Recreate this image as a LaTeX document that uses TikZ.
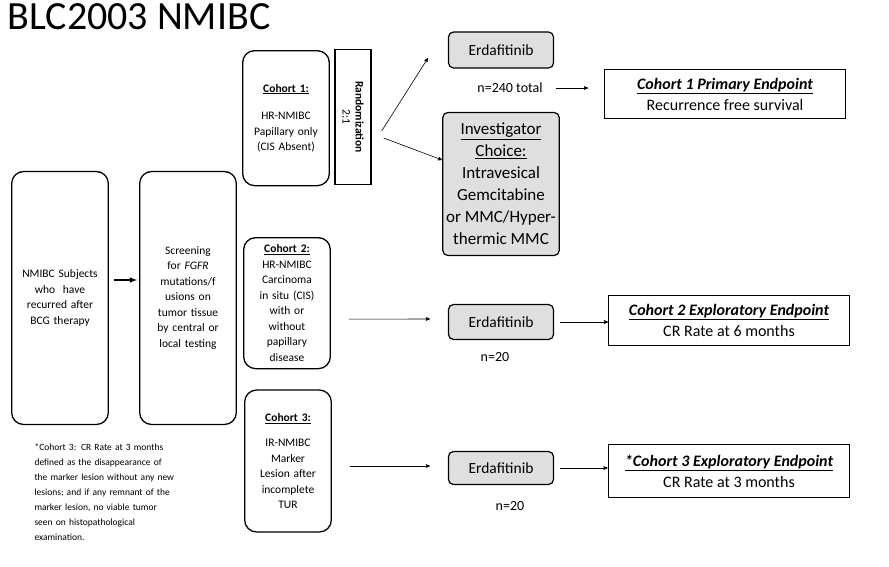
\documentclass[tikz,border=0pt]{standalone}
\usepackage{fontspec}
\setmainfont{Carlito}
\usetikzlibrary{positioning,arrows}
\begin{document}
\begin{tikzpicture}[x=1pt,y=-1pt,>=stealth',
		tall/.style={rectangle,draw=black,line width=1.3pt,rounded corners=12pt,align=center,font=\fontsize{11.5}{15.5}\selectfont,text width=#1},
		tall/.default=80pt,
		drug/.style={rectangle,draw=black,line width=1.2pt,rounded corners=5pt,fill=gray!25,align=center,minimum width=105pt,font=\fontsize{15.5}{18}\selectfont},
		goal/.style={rectangle,draw=black,line width=0.8pt,minimum width=241pt,minimum height=49pt,align=center,font=\fontsize{16}{21}\selectfont},
		arr/.style={->,line width=0.6pt}]
		\useasboundingbox (0,0) rectangle (889,566);
		\node[anchor=north west,font=\fontsize{40}{42}\selectfont] (title) at (4,0) {BLC2003 NMIBC};
		
		% left column
		\node[tall=90pt,minimum width=92pt,minimum height=253pt] (subj) at (60,298) {NMIBC Subjects\\who\ \ have\\recurred after\\BCG therapy};
		\node[tall=90pt,minimum width=87pt,minimum height=253pt] (scr) at (188,298) {Screening\\for \textit{FGFR}\\mutations/f\\usions on\\tumor tissue\\by central or\\local testing};
		\draw[->,line width=1.4pt,>=latex] (subj.east)+(5,-18) coordinate (s1) -- ++(28,-18) coordinate (s2);
		
		% cohorts
		\node[tall,minimum width=79pt,minimum height=135pt,anchor=north] (c1) at (286,50) {\textbf{\underline{Cohort 1:}}\\[12pt]HR-NMIBC\\Papillary only\\(CIS Absent)\\[105pt]};
		\node[rectangle,draw=black,line width=1.3pt,minimum width=36pt,minimum height=135pt] (rand) at (353,117) {};
		\node[rotate=-90,align=center,font=\fontsize{11.5}{13}\selectfont] (randt) at (rand) {\textbf{Randomization}\\2:1};
		\node[tall,minimum width=81pt,minimum height=131pt,anchor=north] (c2) at (287,237) {\textbf{\underline{Cohort 2:}}\\HR-NMIBC\\Carcinoma\\in situ (CIS)\\with or\\without\\papillary\\disease};
		\node[tall,minimum width=84pt,minimum height=142pt] (c3) at (288,461) {\textbf{\underline{Cohort 3:}}\\[10pt]IR-NMIBC\\Marker\\Lesion after\\incomplete\\TUR\\[10pt]};
		
		% treatments
		\node[drug,minimum height=36pt] (e1) at (501,50) {Erdafitinib};
		\node[drug,minimum height=143pt,font=\fontsize{17}{22}\selectfont] (inv) at (501,184) {\underline{Investigator}\\\underline{Choice:}\\Intravesical\\Gemcitabine\\or MMC/Hyper-\\thermic MMC};
		\node[drug,minimum height=35pt] (e2) at (501,322) {Erdafitinib};
		\node[drug,minimum height=33pt] (e3) at (501,468) {Erdafitinib};
		\node[font=\fontsize{14}{16}\selectfont] (n1) at (510,88) {n=240 total};
		\node[font=\fontsize{14}{16}\selectfont] (n2) at (495,357) {n=20};
		\node[font=\fontsize{14}{16}\selectfont] (n3) at (510,506) {n=20};
		
		% endpoints
		\node[goal] (g1) at (725,94) {\textbf{\textit{\underline{Cohort 1 Primary Endpoint}}}\\Recurrence free survival};
		\node[goal,minimum height=50pt] (g2) at (729,320) {\textbf{\textit{\underline{Cohort 2 Exploratory Endpoint}}}\\CR Rate at 6 months};
		\node[goal,line width=1.6pt,minimum height=53pt] (g3) at (729,471) {\textbf{\textit{\underline{*Cohort 3 Exploratory Endpoint}}}\\CR Rate at 3 months};
		
		\path (rand.east)+(10,14) coordinate (r1);
		\path (rand.east)+(12,21) coordinate (r2);
		\draw[arr] (r1) -- (428,58);
		\draw[arr] (r2) -- (inv.west |- 0,160);
		\draw[arr] (n1.east)+(10,0) coordinate (m1) -- (588,88);
		\draw[arr] (c2.east)+(18,16) coordinate (m2) -- (430,319);
		\draw[arr] (e2.east)+(6,0) coordinate (m3) -- (g2.west |- m3);
		\draw[arr] (c3.east)+(18,5) coordinate (m4) -- (430,466);
		\draw[arr] (e3.east)+(6,0) coordinate (m5) -- (g3.west |- m5);
		
		\node[anchor=north west,align=left,text width=210pt,font=\fontsize{9.5}{15}\selectfont] (note) at (31,440) {*Cohort 3: CR Rate at 3 months\\defined as the disappearance of\\the marker lesion without any new\\lesions; and if any remnant of the\\marker lesion, no viable tumor\\seen on histopathological\\examination.};
		\end{tikzpicture}
\end{document}
